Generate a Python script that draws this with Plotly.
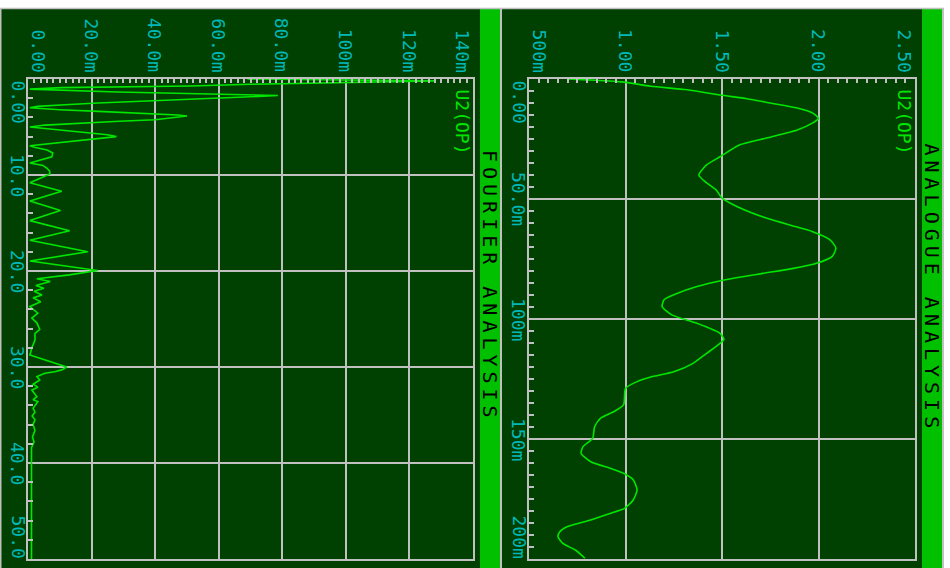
import numpy as np
import plotly.graph_objects as go

W, H = 950, 568

# ---- U2(OP) Fourier spectrum: frequency and magnitude (V) ----
fourier_freq = [
    0.0, 0.2, 0.55, 0.73, 0.9, 1.05,
    1.35, 1.53, 1.72, 1.85, 2.05, 2.3, 2.5, 2.68, 2.85, 3.0,
    3.2, 3.4, 3.6, 3.75, 3.85, 4.05, 4.25, 4.4, 4.6, 4.8, 5.0,
    5.2, 5.4, 5.6, 5.8, 6.0, 6.2, 6.5, 6.7, 6.95,
    7.1, 7.4, 7.7, 8.1, 8.75, 9.0, 9.3, 9.6, 9.9, 10.3, 10.8,
    11.7, 12.7, 13.7, 14.75, 15.8, 16.8, 18.0, 18.95, 19.95, 20.4, 20.8,
    21.1, 21.5, 21.8, 22.1, 22.5, 22.8, 23.2, 23.7, 24.4, 24.9, 25.4, 26.1, 26.5, 27.2, 28.0, 28.75,
    29.3, 29.6, 30.0, 30.3, 30.5, 30.65, 31.0, 31.35, 31.8, 32.1, 32.4, 33.1, 33.4, 33.6,
    34.3, 34.7, 35.1, 35.5, 36.0, 36.6, 37.3, 37.8, 38.4, 50.0,
]
fourier_mag = [
    0.069, 0.128, 0.070, 0.051, 0.0106, 0.0006,
    0.028, 0.057, 0.0786, 0.070, 0.0544, 0.036, 0.022, 0.0116, 0.003, 0.0006,
    0.010, 0.024, 0.038, 0.047, 0.050, 0.045, 0.040, 0.0287, 0.0162, 0.0053, 0.0006,
    0.0063, 0.013, 0.0194, 0.025, 0.0278, 0.022, 0.0144, 0.0065, 0.0006,
    0.002, 0.006, 0.0078, 0.0075, 0.0006, 0.0047, 0.006, 0.0068, 0.0069, 0.004, 0.0006,
    0.0106, 0.0006, 0.0102, 0.0006, 0.0131, 0.0006, 0.0188, 0.0006, 0.0219, 0.013, 0.0028,
    0.0070, 0.0025, 0.0050, 0.0019, 0.0044, 0.0016, 0.0040, 0.0006, 0.0031, 0.0012, 0.0028, 0.0037, 0.0022, 0.0022, 0.0012, 0.0006,
    0.0059, 0.0090, 0.0122, 0.0106, 0.0084, 0.0053, 0.0028, 0.0037, 0.0016, 0.0031, 0.0012, 0.0028, 0.0016, 0.0031,
    0.0016, 0.0022, 0.0013, 0.0022, 0.0016, 0.0022, 0.0014, 0.0019, 0.0011, 0.0011,
]

# ---- U2(OP) transient waveform: time (ms) and voltage (V) ----
analog_time_ms = [
    0, 1.2, 3.0, 4.5, 6.7, 8.2, 10.0, 12.1, 14.2, 16.4, 18.3, 21.25, 24.6, 27.5,
    32.4, 35.8, 40.0, 43.3, 46.25, 49.6, 53.2, 57.4, 60.8, 63.6, 67.0, 70.5, 74.0,
    76.8, 78.9, 81.0, 83.75, 86.5, 89.3, 92.0, 94.9, 98.3, 101.8, 106.0, 108.5,
    110.8, 114.3, 118.5, 122.0, 124.0, 126.1, 128.9, 135.8, 138.6, 141.4, 144.9,
    149.7, 153.2, 156.0, 159.5, 162.2, 164.3, 167.0, 171.25, 175.4, 178.9, 181.0,
    183.75, 186.5, 188.6, 190.7, 193.5, 196.25, 199.7,
]
analog_volt = [
    0.70, 0.98, 1.13, 1.32, 1.49, 1.63, 1.75, 1.89, 1.97, 2.00, 1.97, 1.89, 1.73, 1.59,
    1.49, 1.42, 1.38, 1.42, 1.47, 1.50, 1.58, 1.71, 1.85, 1.97, 2.06, 2.09, 2.07,
    1.99, 1.87, 1.71, 1.51, 1.37, 1.27, 1.20, 1.19, 1.24, 1.37, 1.49, 1.51,
    1.48, 1.42, 1.35, 1.25, 1.14, 1.06, 1.00, 0.99, 0.94, 0.87, 0.84,
    0.83, 0.78, 0.77, 0.82, 0.92, 0.99, 1.04, 1.06, 1.04, 0.995, 0.92,
    0.82, 0.70, 0.66, 0.65, 0.675, 0.74, 0.79,
]

# ---- tick values and labels ----
fourier_value_ticks = [0, 0.02, 0.04, 0.06, 0.08, 0.10, 0.12, 0.14]
fourier_value_labels = ["0.00", "20.0m", "40.0m", "60.0m", "80.0m", "100m", "120m", "140m"]
fourier_freq_ticks = [0, 10, 20, 30, 40, 50]
fourier_freq_labels = ["0.00", "10.0", "20.0", "30.0", "40.0", "50.0"]
analog_volt_ticks = [0.5, 1.0, 1.5, 2.0, 2.5]
analog_volt_labels = ["500m", "1.00", "1.50", "2.00", "2.50"]
analog_time_ticks = [0, 0.05, 0.10, 0.15, 0.20]
analog_time_labels = ["0.00", "50.0m", "100m", "150m", "200m"]

# ---- colours ----
BG = "#004000"
BAR = "#00c000"
GRID = "#c0c0c0"
TRACE = "#00e600"
LABEL = "#00b8b8"
MONO = "DejaVu Sans Mono"


def px(x):
    return x / W


def py(y):
    return 1 - y / H


fig = go.Figure()

fig.add_trace(go.Scatter(
    x=fourier_mag, y=fourier_freq, mode="lines",
    line=dict(color=TRACE, width=1.6), xaxis="x", yaxis="y",
    showlegend=False, hoverinfo="skip",
))
fig.add_trace(go.Scatter(
    x=analog_volt, y=np.array(analog_time_ms) / 1000.0, mode="lines",
    line=dict(color=TRACE, width=1.6, shape="spline", smoothing=0.6),
    xaxis="x2", yaxis="y2", showlegend=False, hoverinfo="skip",
))

# plot-area vertical extent (pixels from the top)
TOP, BOT = 79, 559
ydom = [py(BOT), py(TOP)]


def value_axis(dom, rng, dtick, minor_dtick, anchor):
    return dict(
        domain=dom, range=rng, anchor=anchor, side="top",
        tick0=rng[0], dtick=dtick, ticks="", showticklabels=False,
        showgrid=True, gridcolor=GRID, gridwidth=2,
        showline=True, linecolor=GRID, linewidth=2, mirror=True,
        zeroline=False, fixedrange=True,
        minor=dict(ticks="inside", dtick=minor_dtick, tick0=rng[0],
                   ticklen=4, tickwidth=1.5, tickcolor=GRID, showgrid=False),
    )


def time_axis(rng, dtick, minor_dtick, anchor):
    return dict(
        domain=ydom, range=rng, anchor=anchor,
        tick0=0, dtick=dtick, ticks="", showticklabels=False,
        showgrid=True, gridcolor=GRID, gridwidth=2,
        showline=True, linecolor=GRID, linewidth=2, mirror=True,
        zeroline=False, fixedrange=True,
        minor=dict(ticks="inside", dtick=minor_dtick, tick0=0,
                   ticklen=5, tickwidth=1.5, tickcolor=GRID, showgrid=False),
    )


fig.update_layout(
    xaxis=value_axis([px(28), px(473)], [0, 0.14], 0.02, 0.002, "y"),
    yaxis=time_axis([50, 0], 10, 2, "x"),
    xaxis2=value_axis([px(529), px(915)], [0.5, 2.5], 0.5, 0.05, "y2"),
    yaxis2=time_axis([0.2, 0], 0.05, 0.005, "x2"),
)

# ---- panel backgrounds, title bars and frame lines ----
shapes = [
    dict(type="rect", x0=px(0), x1=px(480), y0=py(568), y1=py(8),
         fillcolor=BG, line=dict(width=0)),
    dict(type="rect", x0=px(502), x1=px(922), y0=py(568), y1=py(8),
         fillcolor=BG, line=dict(width=0)),
    dict(type="rect", x0=px(480), x1=px(500), y0=py(568), y1=py(9),
         fillcolor=BAR, line=dict(width=0)),
    dict(type="rect", x0=px(922), x1=px(942), y0=py(568), y1=py(9),
         fillcolor=BAR, line=dict(width=0)),
    dict(type="line", x0=px(0), x1=px(944), y0=py(8.5), y1=py(8.5),
         line=dict(color=GRID, width=1.5)),
    dict(type="line", x0=px(0.75), x1=px(0.75), y0=py(568), y1=py(8),
         line=dict(color=GRID, width=1.5)),
    dict(type="line", x0=px(501), x1=px(501), y0=py(568), y1=py(8),
         line=dict(color=GRID, width=2)),
    dict(type="line", x0=px(943), x1=px(943), y0=py(568), y1=py(8),
         line=dict(color=GRID, width=2)),
]
for s in shapes:
    s.update(xref="paper", yref="paper", layer="below")

annotations = []


def label(text, **kw):
    d = dict(text=text, showarrow=False, textangle=90,
             font=dict(family=MONO, size=18, color=LABEL), borderpad=0)
    d.update(kw)
    annotations.append(d)


# value-axis labels along the top of each panel
for xref, ticks, labels in [("x", fourier_value_ticks, fourier_value_labels),
                            ("x2", analog_volt_ticks, analog_volt_labels)]:
    n = len(ticks)
    for i, (v, t) in enumerate(zip(ticks, labels)):
        shift = 10 if i == 0 else (-11 if i == n - 1 else 0)
        label(t, x=v, xref=xref, y=py(73), yref="paper",
              xanchor="center", yanchor="bottom", xshift=shift)

# time / frequency labels down the left side of each panel
for yref, xc, ticks, labels in [("y", 18, fourier_freq_ticks, fourier_freq_labels),
                                ("y2", 519, analog_time_ticks, analog_time_labels)]:
    n = len(ticks)
    for i, (v, t) in enumerate(zip(ticks, labels)):
        ya = "top" if i == 0 else ("bottom" if i == n - 1 else "middle")
        label(t, x=px(xc), xref="paper", y=v, yref=yref,
              xanchor="center", yanchor=ya)

# trace name tags
for xc in (462, 904):
    label("U2(OP)", x=px(xc), xref="paper", y=py(88), yref="paper",
          xanchor="center", yanchor="top",
          font=dict(family=MONO, size=18, color=TRACE))

# panel titles in the green bars
for xc, yc, title in [(490, 286, "FOURIER ANALYSIS"), (932, 288, "ANALOGUE ANALYSIS")]:
    label(title, x=px(xc), xref="paper", y=py(yc), yref="paper",
          xanchor="center", yanchor="middle",
          font=dict(family=MONO, size=20, color="#000000"))

fig.update_layout(
    width=W, height=H, autosize=False,
    margin=dict(l=0, r=0, t=0, b=0, pad=0),
    paper_bgcolor="#ffffff", plot_bgcolor=BG,
    shapes=shapes, annotations=annotations,
    showlegend=False,
)

# widen the character pitch of the panel titles
title_spacing = """
document.querySelectorAll('.annotation-text').forEach(function (t) {
  if (t.textContent.indexOf('ANALYSIS') >= 0) { t.style.letterSpacing = '5px'; }
});
"""

fig.write_html("out.html", config={"displayModeBar": False}, post_script=title_spacing)
